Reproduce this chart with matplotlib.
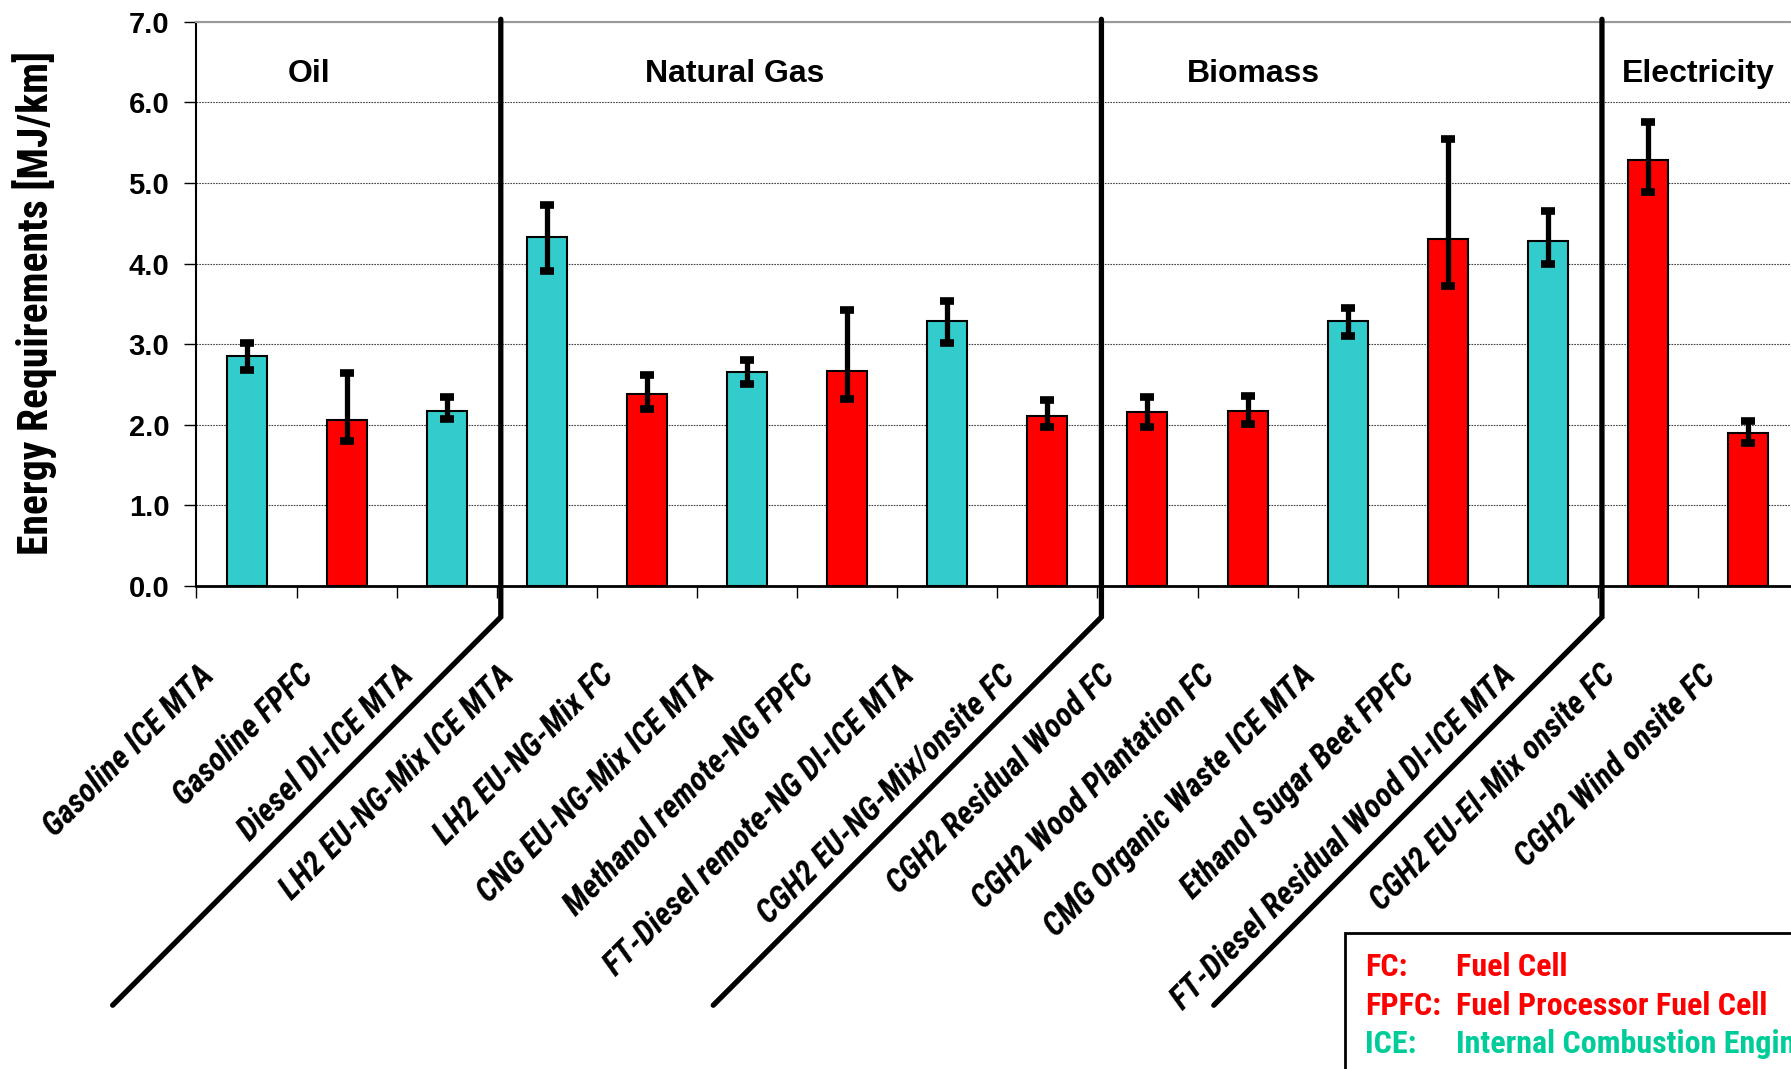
import numpy as np
import matplotlib
matplotlib.use('Agg')
import matplotlib.pyplot as plt
from matplotlib import font_manager as fm
from matplotlib.transforms import offset_copy
from matplotlib.patches import Rectangle

# pathways (bars), left to right
pathways = ['Gasoline ICE MTA', 'Gasoline FPFC', 'Diesel DI-ICE MTA',
            'LH2 EU-NG-Mix ICE MTA', 'LH2 EU-NG-Mix FC', 'CNG EU-NG-Mix ICE MTA',
            'Methanol remote-NG FPFC', 'FT-Diesel remote-NG DI-ICE MTA',
            'CGH2 EU-NG-Mix/onsite FC', 'CGH2 Residual Wood FC',
            'CGH2 Wood Plantation FC', 'CMG Organic Waste ICE MTA',
            'Ethanol Sugar Beet FPFC', 'FT-Diesel Residual Wood DI-ICE MTA',
            'CGH2 EU-El-Mix onsite FC', 'CGH2 Wind onsite FC']

# energy requirement [MJ/km] and range (low / high)
energy = [2.85, 2.06, 2.17, 4.33, 2.38, 2.65, 2.67, 3.29,
          2.11, 2.16, 2.17, 3.29, 4.31, 4.28, 5.29, 1.90]
range_low = [2.68, 1.80, 2.07, 3.91, 2.19, 2.51, 2.32, 3.02,
             1.97, 1.97, 2.01, 3.10, 3.72, 4.00, 4.89, 1.77]
range_high = [3.02, 2.64, 2.35, 4.73, 2.62, 2.80, 3.42, 3.54,
              2.31, 2.34, 2.36, 3.45, 5.55, 4.65, 5.75, 2.05]

groups = ['Oil', 'Natural Gas', 'Biomass', 'Electricity']
group_sizes = [3, 6, 5, 2]

legend_abbr = ['FC:', 'FPFC:', 'ICE:']
legend_text = ['Fuel Cell', 'Fuel Processor Fuel Cell', 'Internal Combustion Engine']


def pick(*names):
    for n in names:
        try:
            fm.findfont(fm.FontProperties(family=n), fallback_to_default=False)
            return n
        except Exception:
            pass
    return None


narrow = pick('Liberation Sans Narrow', 'Roboto Condensed', 'Open Sans Condensed')
base = 'Liberation Sans'
if narrow:
    lab_font, lab_size = narrow, 23.5
    ylab_font, ylab_size = narrow, 30
    leg_font, leg_size = narrow, 23
else:
    lab_font, lab_size = base, 19.5
    ylab_font, ylab_size = base, 25
    leg_font, leg_size = base, 20

CYAN = '#33CCCC'
RED = '#FF0000'
TEAL = '#00CC99'

fig = plt.figure(figsize=(17.91, 10.69), dpi=100)
ax = fig.add_axes([0.1097, 0.4518, 0.8943, 0.5279])

x = np.arange(len(pathways))
e = np.array(energy)
colors = [CYAN if 'ICE' in p else RED for p in pathways]
ax.bar(x, e, width=0.4, color=colors, edgecolor='black', linewidth=1.5, zorder=3)
ax.errorbar(x, e, yerr=[e - np.array(range_low), np.array(range_high) - e],
            fmt='none', ecolor='black', elinewidth=3.8, capsize=5, capthick=5.5, zorder=4)

ax.set_xlim(-0.5, len(pathways) - 0.5)
ax.set_ylim(0, 7)
ax.set_yticks(np.arange(0, 7.1, 1.0))
ax.set_yticklabels([f'{v:.1f}' for v in np.arange(0, 7.1, 1.0)],
                   fontsize=21, fontweight='bold', family=base)
ax.set_xticks(np.arange(-0.5, len(pathways), 1.0))
ax.set_xticklabels([])
ax.tick_params(axis='y', direction='out', length=8.6, width=1, pad=11)
ax.tick_params(axis='x', direction='out', length=8.6, width=1)

ax.yaxis.grid(True, linestyle=(0, (1.5, 1)), color='#444444', linewidth=0.8)
ax.set_axisbelow(True)
ax.spines['right'].set_visible(False)
ax.spines['top'].set_color('#999999')
ax.spines['top'].set_linewidth(1.5)
ax.spines['left'].set_linewidth(1.5)
ax.spines['bottom'].set_linewidth(2)

ax.set_ylabel('Energy Requirements [MJ/km]', fontsize=ylab_size,
              fontweight='bold', family=ylab_font)
ax.yaxis.set_label_coords(-0.087, 0.5015)

# rotated pathway labels
tr = offset_copy(ax.get_xaxis_transform(), fig=fig, x=-27, y=-61, units='points')
for i, name in enumerate(pathways):
    ax.text(i, 0, name, transform=tr, rotation=45, rotation_mode='anchor',
            ha='right', va='center', fontsize=lab_size, fontweight='bold',
            fontstyle='italic', family=lab_font)

# group dividers: vertical line then 45 degree line below the axis
fig.canvas.draw()
bb = ax.get_window_extent()
ppx = bb.width / len(pathways)
ppy = bb.height / 7
y_knee, y_end = -0.385, -5.2
bounds = np.cumsum(group_sizes)[:-1] - 0.5
for b in bounds:
    b = b + 0.04
    dx = (y_knee - y_end) * ppy / ppx
    ax.plot([b, b, b - dx], [7.03, y_knee, y_end], color='black', lw=3.8,
            clip_on=False, solid_joinstyle='miter', solid_capstyle='round', zorder=5)

# group names
group_label_x = [0.62, 4.88, 10.06, 14.5]
for gx, g in zip(group_label_x, groups):
    ax.text(gx, 6.35, g, ha='center', va='center', fontsize=23,
            fontweight='bold', family=base, zorder=6)

# abbreviation box (runs off the lower right corner)
fig.patches.append(Rectangle((0.7507, -0.2), 0.3, 0.3272, transform=fig.transFigure,
                             fill=False, lw=2, ec='black'))
leg_colors = [RED, RED, TEAL]
leg_y = [0.0953, 0.0589, 0.0233]
for a, t, c, yy in zip(legend_abbr, legend_text, leg_colors, leg_y):
    fig.text(0.7622, yy, a, color=c, fontsize=leg_size, fontweight='bold',
             family=leg_font, va='center', ha='left')
    fig.text(0.8130, yy, t, color=c, fontsize=leg_size, fontweight='bold',
             family=leg_font, va='center', ha='left')

fig.savefig('out.png', dpi=100)
